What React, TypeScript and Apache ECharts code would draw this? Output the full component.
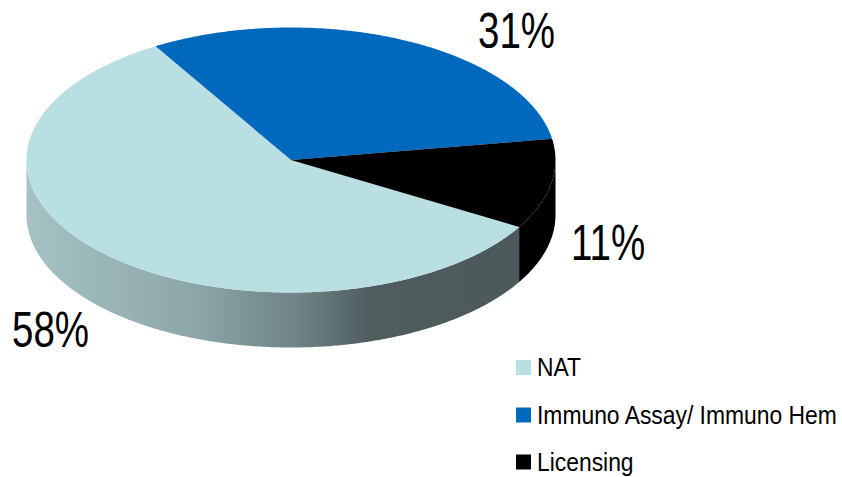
import React, { useEffect, useRef } from "react";
import * as echarts from "echarts";

const categories = ["NAT", "Immuno Assay/ Immuno Hem", "Licensing"];
const shares = [58, 31, 11];
const colors = ["#b9dfe3", "#0069be", "#000000"];
const sweepOrder = [1, 2, 0];

const CX = 291, CY = 160, RX = 264.5, RY = 132.5, DEPTH = 55;
const START_DEG = -30.8;
const FONT = "'Liberation Sans', Arial, sans-serif";

const pt = (deg: number, dy = 0): number[] => {
  const r = (deg * Math.PI) / 180;
  return [CX + RX * Math.sin(r), CY - RY * Math.cos(r) + dy];
};
const arc = (a: number, b: number, dy = 0): number[][] => {
  const out: number[][] = [];
  const n = Math.max(2, Math.ceil(Math.abs(b - a) / 0.5));
  for (let i = 0; i <= n; i++) out.push(pt(a + ((b - a) * i) / n, dy));
  return out;
};

const sliceRange = (idx: number, value: number): number[] => {
  const total = shares.reduce((s, v) => s + v, 0);
  let a = START_DEG;
  for (const k of sweepOrder) {
    if (k === idx) break;
    a += (shares[k] / total) * 360;
  }
  return [a, a + (value / total) * 360];
};

const wallFill = (idx: number): any => {
  if (idx !== 0) return colors[idx];
  return new echarts.graphic.LinearGradient(0, 0, 1, 0, [
    { offset: 0, color: "#a6c2c5" },
    { offset: 0.35, color: "#8ca5a8" },
    { offset: 0.55, color: "#6f8486" },
    { offset: 0.7, color: "#4f5d5f" },
    { offset: 1, color: "#4c595b" },
  ]);
};

const renderSlice = (idx: number) => (_params: any, api: any) => {
  const [a, b] = sliceRange(idx, api.value(0));
  const children: any[] = [];
  // the visible wall is the front half of the rim: 90..270 degrees, clockwise from top
  for (const shift of [0, 360, -360]) {
    const lo = Math.max(a + shift, 90);
    const hi = Math.min(b + shift, 270);
    if (hi > lo) {
      children.push({
        type: "polygon",
        shape: { points: [...arc(lo, hi), ...arc(hi, lo, DEPTH)] },
        style: { fill: wallFill(idx) },
      });
    }
  }
  children.push({
    type: "polygon",
    shape: { points: [[CX, CY], ...arc(a, b)] },
    style: { fill: colors[idx] },
  });
  return { type: "group", children };
};

export default function App() {
  const ref = useRef<HTMLDivElement>(null);
  useEffect(() => {
    document.body.style.margin = "0";
    const chart = echarts.init(ref.current!, null, { renderer: "svg" });
    const pctText = (i: number, x: number, y: number) => ({
      type: "text",
      x,
      y,
      scaleX: 0.77,
      style: {
        text: `${shares[i]}%`,
        font: `50px ${FONT}`,
        fill: "#000",
        textVerticalAlign: "middle",
      },
    });
    const legendRows = [367.5, 415, 462];
    const legendItems = categories.flatMap((name, i) => [
      {
        type: "rect",
        shape: { x: 516, y: legendRows[i] - 7.5, width: 15, height: 15 },
        style: { fill: colors[i] },
      },
      {
        type: "text",
        x: 537,
        y: legendRows[i] - 0.5,
        scaleX: 0.88,
        style: {
          text: name,
          font: `26px ${FONT}`,
          fill: "#000",
          textVerticalAlign: "middle",
        },
      },
    ]);
    chart.setOption({
      animation: false,
      backgroundColor: "#fff",
      graphic: [pctText(1, 478, 31), pctText(2, 571, 243), pctText(0, 12, 330), ...legendItems],
      series: categories.map((name, i) => ({
        type: "custom",
        name,
        coordinateSystem: "none",
        silent: true,
        itemStyle: { color: colors[i] },
        data: [shares[i]],
        renderItem: renderSlice(i),
      })),
    });
    return () => chart.dispose();
  }, []);
  return <div ref={ref} style={{ width: 842, height: 477 }} />;
}
